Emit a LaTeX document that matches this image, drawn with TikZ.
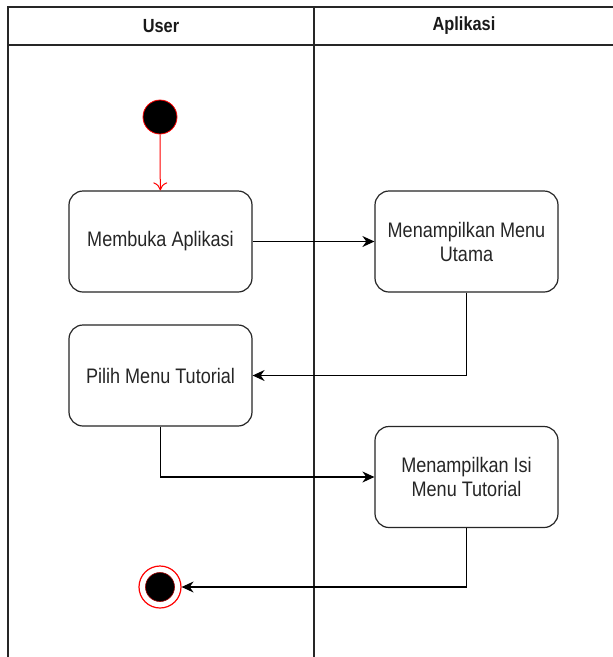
\documentclass[tikz,border=0pt]{standalone}
\usepackage{fontspec}
\setmainfont{Liberation Sans}[FakeStretch=0.86]
\usetikzlibrary{arrows.meta}
\begin{document}
\begin{tikzpicture}[x=1pt,y=-1pt,
  lane/.style={line width=1.3pt,draw=black!85},
  act/.style={draw=black!85,line width=1.2pt,rounded corners=14pt,minimum width=183pt,minimum height=101pt,align=center,font=\fontsize{21}{24}\selectfont,text=black!85},
  flow/.style={line width=1.1pt,draw=black,-{Stealth[length=12pt,width=11pt]}},
  hdr/.style={font=\bfseries\fontsize{19}{22}\selectfont,text=black!90}]
\useasboundingbox (0,0) rectangle (613,657);
\fill[white] (0,0) rectangle (613,657);
% lanes
\draw[lane] (8,657) -- (8,7) -- (613,7);
\draw[lane] (8,45) -- (613,45);
\draw[lane] (314,7) -- (314,657);
\node[hdr] (h1) at (161,26) {User};
\node[hdr] (h2) at (464,26) {Aplikasi};
% start
\node[circle,fill=black,draw=red,line width=0.8pt,minimum size=34pt,inner sep=0pt] (start) at (160,117) {};
% activities
\node[act] (a1) at (160.5,241.5) {Membuka Aplikasi};
\node[act] (a2) at (466.5,241.5) {Menampilkan Menu\\Utama};
\node[act] (a3) at (160.5,375.5) {Pilih Menu Tutorial};
\node[act] (a4) at (466.5,477) {Menampilkan Isi\\Menu Tutorial};
% end
\node[circle,draw=red,line width=1.2pt,minimum size=42pt,inner sep=0pt] (end) at (160,587) {};
\node[circle,fill=black,draw=red!60!black,line width=0.6pt,minimum size=29pt,inner sep=0pt] (endin) at (160,587) {};
% flows
\draw[line width=1pt,red,-{To[length=8pt,width=14pt]}] (start) -- (a1);
\draw[flow] (a1) -- (a2);
\draw[flow] (a2.south) |- (a3.east);
\draw[flow] (a3.south) |- (a4.west);
\draw[flow] (a4.south) |- (end.east);
\end{tikzpicture}
\end{document}
